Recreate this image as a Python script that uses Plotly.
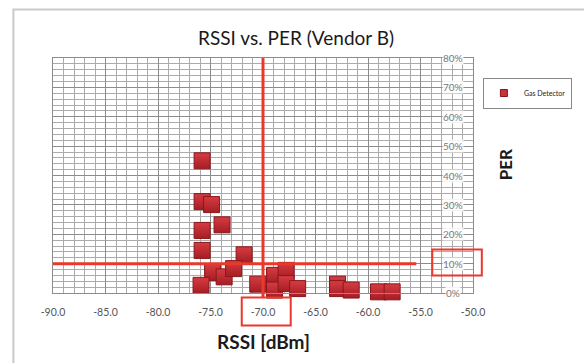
import plotly.graph_objects as go

# Measured link quality for the gas detector nodes
rssi_dbm = [-75.8, -75.8, -74.9, -73.9, -75.8, -75.8, -71.8, -74.8, -73.7, -72.8, -75.9,
            -70.5, -68.9, -68.9, -67.8, -67.8, -66.7, -62.9, -62.9, -61.6, -59.0, -57.7]
per_pct = [45.0, 31.1, 30.1, 23.2, 21.3, 14.5, 13.0, 7.0, 5.5, 8.3, 2.6,
           3.0, 6.0, 1.0, 7.7, 3.2, 1.5, 3.0, 1.5, 1.0, 0.4, 0.4]
per = [v / 100 for v in per_pct]

series_name = "Gas Detector"
rssi_threshold = -70.0
per_threshold = 0.10
x_ticks = [-90, -85, -80, -75, -70, -65, -60, -55, -50]
y_ticks = [0, 0.1, 0.2, 0.3, 0.4, 0.5, 0.6, 0.7, 0.8]
y_tick_text = [f"{round(v * 100)}%" for v in y_ticks]

RED = "#e8392a"
FONT = "Lato, 'Open Sans', sans-serif"

fig = go.Figure()
fig.add_trace(go.Scatter(
    x=rssi_dbm, y=per, mode="markers", showlegend=False, cliponaxis=False,
    marker=dict(symbol="square", size=16, color="#d63c42",
                gradient=dict(type="vertical", color="#a51d24"),
                line=dict(color="#8a171c", width=1)),
))
# small swatch for the legend entry
fig.add_trace(go.Scatter(
    x=[None], y=[None], mode="markers", name=series_name,
    marker=dict(symbol="square", size=7, color="#cc3038",
                line=dict(color="#8a171c", width=1)),
))

grid_major = "#8c8c8c"
grid_minor = "#ababab"

fig.update_xaxes(
    range=[-90, -50], tickvals=x_ticks, ticktext=[f"{v:.1f}" for v in x_ticks],
    showgrid=True, gridcolor=grid_major, gridwidth=1,
    minor=dict(dtick=1, showgrid=True, gridcolor=grid_minor, gridwidth=1),
    zeroline=False, showline=True, linecolor=grid_major, mirror=True,
    ticks="outside", ticklen=9, tickcolor="rgba(0,0,0,0)",
    tickfont=dict(family=FONT, size=10.5, color="#555555"),
)
fig.update_yaxes(
    range=[0, 0.8], tickvals=y_ticks, showticklabels=False,
    showgrid=True, gridcolor=grid_major, gridwidth=1,
    minor=dict(dtick=0.02, showgrid=True, gridcolor=grid_minor, gridwidth=1),
    zeroline=False, showline=True, linecolor=grid_major, mirror=True,
)

shapes = [
    # outer chart frame
    dict(type="rect", xref="paper", yref="paper", x0=-0.0943, x1=1.4, y0=-0.4, y1=1.206,
         line=dict(color="#c9c9c9", width=2), layer="below"),
    # threshold lines
    dict(type="line", xref="x", yref="paper", x0=rssi_threshold, x1=rssi_threshold,
         y0=1.0, y1=-0.02, line=dict(color=RED, width=3)),
    dict(type="line", xref="x", yref="y", x0=-90, x1=-55.4,
         y0=per_threshold, y1=per_threshold, line=dict(color=RED, width=3)),
    # highlight boxes around the threshold tick labels
    dict(type="rect", xref="paper", yref="paper", x0=0.4494, x1=0.5660, y0=-0.019, y1=-0.138,
         line=dict(color=RED, width=2)),
    dict(type="rect", xref="paper", yref="paper", x0=0.903, x1=1.021, y0=0.185, y1=0.0745,
         line=dict(color=RED, width=2)),
]

annotations = [
    dict(text="RSSI [dBm]", xref="paper", yref="paper", x=0.5, y=-0.205,
         showarrow=False, xanchor="center", yanchor="middle",
         font=dict(family=FONT, size=19, color="#1a1a1a", weight="bold")),
    dict(text="PER", xref="paper", yref="paper", x=1.078, y=0.547, textangle=-90,
         showarrow=False, xanchor="center", yanchor="middle",
         font=dict(family=FONT, size=17, color="#1a1a1a", weight="bold")),
]
# percentage labels sit inside the plot, just left of the right edge
for v, t in zip(y_ticks, y_tick_text):
    annotations.append(dict(
        text=t, xref="paper", yref="y", x=0.952, y=v, showarrow=False,
        xanchor="center", yanchor="middle", bgcolor="rgba(255,255,255,0.85)",
        borderpad=0, font=dict(family=FONT, size=10, color="#7a7a7a")))

fig.update_layout(
    width=584, height=363,
    margin=dict(l=53, r=107, t=58, b=70),
    paper_bgcolor="white", plot_bgcolor="white",
    title=dict(text="RSSI vs. PER (Vendor B)", x=0.507, y=0.895,
               xanchor="center", yanchor="middle",
               font=dict(family=FONT, size=19, color="#1a1a1a")),
    legend=dict(x=1.0236, y=0.917, xanchor="left", yanchor="top",
                bordercolor="#888888", borderwidth=1, bgcolor="white",
                font=dict(family=FONT, size=7, color="#222222"),
                itemwidth=30),
    shapes=shapes, annotations=annotations,
)

fig.write_html("out.html")
